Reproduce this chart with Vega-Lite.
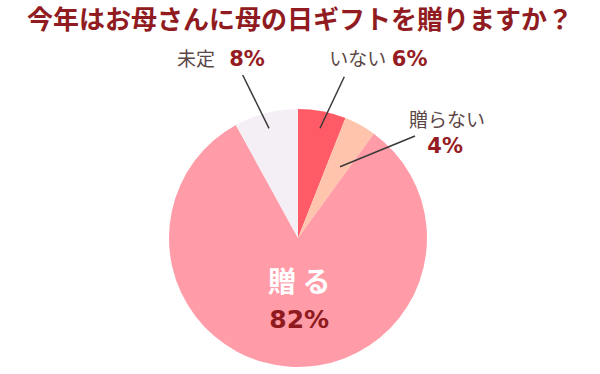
{
  "$schema": "https://vega.github.io/schema/vega-lite/v6.json",
  "width": 600,
  "height": 374,
  "autosize": {"type": "none"},
  "padding": 0,
  "background": "#ffffff",
  "config": {"view": {"stroke": null}},
  "title": {
    "text": "今年はお母さんに母の日ギフトを贈りますか？",
    "font": "Noto Sans CJK JP",
    "fontSize": 26,
    "fontWeight": "bold",
    "color": "#901b21",
    "anchor": "middle",
    "frame": "group",
    "offset": -34
  },
  "layer": [
    {
      "data": {
        "values": [
          {"category": "いない", "share": 0.06},
          {"category": "贈らない", "share": 0.04},
          {"category": "贈る", "share": 0.82},
          {"category": "未定", "share": 0.08}
        ]
      },
      "transform": [{"window": [{"op": "row_number", "as": "answer_order"}]}],
      "encoding": {
        "x": {"datum": 0, "type": "quantitative", "scale": {"domain": [-2.31008, 2.34109], "nice": false, "zero": false}, "axis": null},
        "y": {"datum": 0, "type": "quantitative", "scale": {"domain": [-1.05426, 1.84496], "nice": false, "zero": false}, "axis": null},
        "theta": {"field": "share", "type": "quantitative", "stack": true},
        "order": {"field": "answer_order", "type": "quantitative", "sort": "ascending"},
        "color": {
          "field": "category",
          "type": "nominal",
          "sort": ["いない", "贈らない", "贈る", "未定"],
          "scale": {"domain": ["いない", "贈らない", "贈る", "未定"], "range": ["#ff5b66", "#ffc4ac", "#ff9ca7", "#f4eef5"]},
          "legend": null
        }
      },
      "layer": [
        {"mark": {"type": "arc", "outerRadius": 129, "strokeWidth": 0}},
        {
          "mark": {"type": "text", "radius": 185, "dx": -56, "dy": 1, "font": "Noto Sans CJK JP", "fontSize": 19, "align": "center", "baseline": "middle"},
          "encoding": {"fill": {"value": "#5c4747"}, "text": {"condition": {"test": "datum.category === '未定'", "field": "category", "type": "nominal"}, "value": ""}}
        },
        {
          "mark": {"type": "text", "radius": 185, "dx": -5, "dy": 1.5, "font": "DejaVu Sans", "fontWeight": "bold", "fontSize": 21, "align": "center", "baseline": "middle"},
          "encoding": {"fill": {"value": "#961c24"}, "text": {"condition": {"test": "datum.category === '未定'", "field": "share", "type": "quantitative", "format": ".0%"}, "value": ""}}
        },
        {
          "mark": {"type": "text", "radius": 185, "dx": 25, "dy": 4, "font": "Noto Sans CJK JP", "fontSize": 19, "align": "center", "baseline": "middle"},
          "encoding": {"fill": {"value": "#5c4747"}, "text": {"condition": {"test": "datum.category === 'いない'", "field": "category", "type": "nominal"}, "value": ""}}
        },
        {
          "mark": {"type": "text", "radius": 185, "dx": 77, "dy": 4, "font": "DejaVu Sans", "fontWeight": "bold", "fontSize": 21, "align": "center", "baseline": "middle"},
          "encoding": {"fill": {"value": "#961c24"}, "text": {"condition": {"test": "datum.category === 'いない'", "field": "share", "type": "quantitative", "format": ".0%"}, "value": ""}}
        },
        {
          "mark": {"type": "text", "radius": 185, "dx": 60, "dy": 45, "font": "Noto Sans CJK JP", "fontSize": 19, "align": "center", "baseline": "middle"},
          "encoding": {"fill": {"value": "#5c4747"}, "text": {"condition": {"test": "datum.category === '贈らない'", "field": "category", "type": "nominal"}, "value": ""}}
        },
        {
          "mark": {"type": "text", "radius": 185, "dx": 58, "dy": 71, "font": "DejaVu Sans", "fontWeight": "bold", "fontSize": 21, "align": "center", "baseline": "middle"},
          "encoding": {"fill": {"value": "#961c24"}, "text": {"condition": {"test": "datum.category === '贈らない'", "field": "share", "type": "quantitative", "format": ".0%"}, "value": ""}}
        },
        {
          "mark": {"type": "text", "radius": 44, "dx": 4, "dy": 2, "font": "Noto Sans CJK JP", "fontWeight": "bold", "fontSize": 28, "align": "center", "baseline": "middle"},
          "encoding": {"fill": {"value": "#ffffff"}, "text": {"condition": {"test": "datum.category === '贈る'", "value": "贈 る"}, "value": ""}}
        },
        {
          "mark": {"type": "text", "radius": 44, "dx": 4, "dy": 38, "font": "DejaVu Sans", "fontWeight": "bold", "fontSize": 25, "align": "center", "baseline": "middle"},
          "encoding": {"fill": {"value": "#8e1a20"}, "text": {"condition": {"test": "datum.category === '贈る'", "field": "share", "type": "quantitative", "format": ".0%"}, "value": ""}}
        }
      ]
    },
    {
      "data": {"values": [{}]},
      "mark": {"type": "rule", "color": "#3a3a3a", "strokeWidth": 1.5},
      "encoding": {
        "x": {"datum": -0.4287, "type": "quantitative"},
        "y": {"datum": 1.2636, "type": "quantitative"},
        "x2": {"datum": -0.2248},
        "y2": {"datum": 0.8504}
      }
    },
    {
      "data": {"values": [{}]},
      "mark": {"type": "rule", "color": "#3a3a3a", "strokeWidth": 1.5},
      "encoding": {
        "x": {"datum": 0.3589, "type": "quantitative"},
        "y": {"datum": 1.2504, "type": "quantitative"},
        "x2": {"datum": 0.1705},
        "y2": {"datum": 0.8504}
      }
    },
    {
      "data": {"values": [{}]},
      "mark": {"type": "rule", "color": "#3a3a3a", "strokeWidth": 1.5},
      "encoding": {
        "x": {"datum": 0.907, "type": "quantitative"},
        "y": {"datum": 0.7907, "type": "quantitative"},
        "x2": {"datum": 0.3256},
        "y2": {"datum": 0.5527}
      }
    }
  ]
}
